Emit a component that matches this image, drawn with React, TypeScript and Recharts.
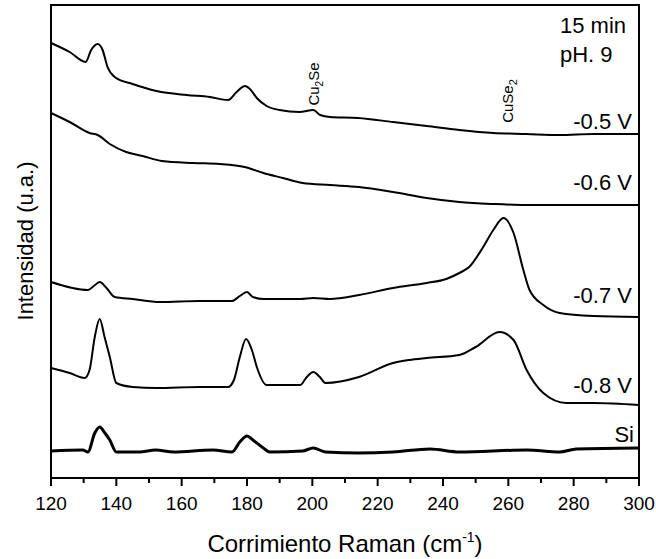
import React from 'react';
import { LineChart, Line, XAxis, YAxis } from 'recharts';

// Raman spectra, intensity in arbitrary units (stacked offsets as drawn)
const p05 = [
  { x: 120, y: 435 }, { x: 125.7, y: 426 }, { x: 130.6, y: 416 }, { x: 132.3, y: 428 },
  { x: 134.3, y: 434 }, { x: 135.8, y: 428 }, { x: 137.3, y: 411 }, { x: 139.5, y: 401 },
  { x: 145, y: 394 }, { x: 152.3, y: 387 }, { x: 161.5, y: 383 }, { x: 168.6, y: 381 },
  { x: 174.2, y: 378 }, { x: 176.8, y: 386 }, { x: 179.4, y: 392 }, { x: 180.9, y: 389 },
  { x: 183, y: 380 }, { x: 186, y: 372 }, { x: 190, y: 368 }, { x: 196, y: 366 },
  { x: 200.3, y: 368 }, { x: 202.4, y: 363 }, { x: 205.4, y: 361 }, { x: 214, y: 360 },
  { x: 224.7, y: 356 }, { x: 235, y: 352 }, { x: 245, y: 348 }, { x: 255.4, y: 345 },
  { x: 265.5, y: 344 }, { x: 275.7, y: 343 }, { x: 286, y: 344 }, { x: 300, y: 344 },
];

const p06 = [
  { x: 120, y: 365 }, { x: 125.7, y: 356 }, { x: 131.8, y: 345 }, { x: 134.3, y: 343 },
  { x: 138, y: 334 }, { x: 143, y: 326 }, { x: 148, y: 322 }, { x: 154, y: 317 },
  { x: 163.5, y: 315 }, { x: 171.7, y: 314 }, { x: 179.3, y: 311 }, { x: 185, y: 305 },
  { x: 191, y: 300 }, { x: 197, y: 295 }, { x: 205.4, y: 293 }, { x: 214.3, y: 291 },
  { x: 224.7, y: 286 }, { x: 235, y: 280 }, { x: 245, y: 276 }, { x: 255.4, y: 274 },
  { x: 265.5, y: 273 }, { x: 300, y: 273 },
];

const p07 = [
  { x: 120, y: 196 }, { x: 131.3, y: 188 }, { x: 133.1, y: 192 }, { x: 134.9, y: 196 },
  { x: 137, y: 190 }, { x: 139.5, y: 181 }, { x: 145, y: 179 }, { x: 153.3, y: 176 },
  { x: 165.5, y: 177 }, { x: 175.4, y: 177 }, { x: 177.8, y: 182 }, { x: 180, y: 186 },
  { x: 181.8, y: 181 }, { x: 185, y: 179 }, { x: 196.3, y: 179 }, { x: 200.3, y: 180 },
  { x: 205.4, y: 179 }, { x: 214.3, y: 183 }, { x: 224.7, y: 190 }, { x: 235, y: 195 },
  { x: 241, y: 199 }, { x: 245, y: 205 }, { x: 248, y: 211 }, { x: 252.3, y: 231 },
  { x: 255.4, y: 248 }, { x: 258.5, y: 260 }, { x: 261.6, y: 245 }, { x: 264.6, y: 208 },
  { x: 266.5, y: 188 }, { x: 270.7, y: 173 }, { x: 275.7, y: 165 }, { x: 286, y: 162 },
  { x: 300, y: 161 },
];

const p08 = [
  { x: 120, y: 110 }, { x: 125.7, y: 105 }, { x: 130.3, y: 100 }, { x: 131.8, y: 108 },
  { x: 133.4, y: 141 }, { x: 134.9, y: 159 }, { x: 136.4, y: 141 }, { x: 138, y: 121 },
  { x: 140, y: 95 }, { x: 145, y: 91 }, { x: 152.3, y: 90 }, { x: 165.5, y: 91 },
  { x: 174.2, y: 91 }, { x: 176, y: 98 }, { x: 177.8, y: 121 }, { x: 179.7, y: 139 },
  { x: 181.5, y: 128 }, { x: 183, y: 111 }, { x: 186, y: 93 }, { x: 196.3, y: 93 },
  { x: 198.3, y: 101 }, { x: 200.3, y: 106 }, { x: 202.3, y: 101 }, { x: 204, y: 95 },
  { x: 214.3, y: 101 }, { x: 224.7, y: 115 }, { x: 229.6, y: 118 }, { x: 235, y: 120 },
  { x: 245, y: 123 }, { x: 250, y: 131 }, { x: 257.3, y: 146 }, { x: 261.6, y: 138 },
  { x: 265.6, y: 108 }, { x: 270.7, y: 85 }, { x: 277.8, y: 75 }, { x: 286, y: 75 },
  { x: 300, y: 73 },
];

const si = [
  { x: 120, y: 27 }, { x: 129.7, y: 28 }, { x: 131.3, y: 26 }, { x: 133.4, y: 45 },
  { x: 134.9, y: 51 }, { x: 136.5, y: 45 }, { x: 138, y: 38 }, { x: 140, y: 26 },
  { x: 147, y: 26 }, { x: 152, y: 28 }, { x: 157.5, y: 26 }, { x: 169.6, y: 28 },
  { x: 175.4, y: 26 }, { x: 177.8, y: 36 }, { x: 180, y: 42 }, { x: 181.8, y: 38 },
  { x: 185, y: 30 }, { x: 187, y: 26 }, { x: 197, y: 27 }, { x: 200.3, y: 30 },
  { x: 204, y: 26 }, { x: 214.3, y: 25 }, { x: 224.7, y: 26 }, { x: 236, y: 29 },
  { x: 245, y: 26 }, { x: 265.6, y: 28 }, { x: 275.7, y: 26 }, { x: 280.8, y: 29 },
  { x: 300, y: 30 },
];

// axis ranges
const X_MIN = 120;
const X_MAX = 300;
const Y_MIN = 0;
const Y_MAX = 473;

// every 10 cm-1 a tick, every 20 a labelled one
const xTicks = [120, 130, 140, 150, 160, 170, 180, 190, 200, 210, 220, 230, 240, 250, 260, 270, 280, 290, 300];

// plot frame, walked round the corners of the axis ranges
const frame = [
  { x: X_MIN, y: Y_MIN }, { x: X_MIN, y: Y_MAX }, { x: X_MAX, y: Y_MAX },
  { x: X_MAX, y: Y_MIN }, { x: X_MIN, y: Y_MIN },
];

const font = '"Liberation Sans", Arial, sans-serif';
const blank = () => '';

const renderTick = (props: any) => {
  const { x, y, payload } = props;
  const major = payload.value % 20 === 0;
  return (
    <g>
      <path d={`M${x},${y}L${x},${y + (major ? 8 : 5)}`} stroke="#000" strokeWidth={2} fill="none" />
      {major && (
        <text x={x} y={y + 32} textAnchor="middle" fontSize={19} fontFamily={font} fill="#000">
          {payload.value}
        </text>
      )}
    </g>
  );
};

const frameLine = { stroke: '#000', strokeWidth: 1.5 };

const App: React.FC = () => {
  return (
    <div style={{ position: 'absolute', left: 0, top: 0, fontFamily: font }}>
      <LineChart width={656} height={559} margin={{ top: 5, right: 17, left: 51, bottom: 51 }}>
        <XAxis
          xAxisId="x"
          type="number"
          dataKey="x"
          domain={[X_MIN, X_MAX]}
          ticks={xTicks}
          interval={0}
          tickSize={0}
          tickMargin={0}
          tickLine={false}
          axisLine={frameLine}
          tick={renderTick}
          height={30}
        />
        <YAxis
          yAxisId="l"
          type="number"
          domain={[Y_MIN, Y_MAX]}
          ticks={[Y_MIN, Y_MAX]}
          tickLine={false}
          tickFormatter={blank}
          axisLine={frameLine}
          width={0}
        />

        <Line xAxisId="x" yAxisId="l" data={frame} dataKey="y" type="linear" stroke="#000" strokeWidth={2} dot={false} activeDot={false} isAnimationActive={false} />

        <Line xAxisId="x" yAxisId="l" data={p05} dataKey="y" type="monotone" stroke="#000" strokeWidth={2} dot={false} isAnimationActive={false} />
        <Line xAxisId="x" yAxisId="l" data={p06} dataKey="y" type="monotone" stroke="#000" strokeWidth={2} dot={false} isAnimationActive={false} />
        <Line xAxisId="x" yAxisId="l" data={p07} dataKey="y" type="monotone" stroke="#000" strokeWidth={2} dot={false} isAnimationActive={false} />
        <Line xAxisId="x" yAxisId="l" data={p08} dataKey="y" type="monotone" stroke="#000" strokeWidth={2} dot={false} isAnimationActive={false} />
        <Line xAxisId="x" yAxisId="l" data={si} dataKey="y" type="monotone" stroke="#000" strokeWidth={3} dot={false} isAnimationActive={false} />

        <text x={560} y={33} fontSize={22} fontFamily={font} fill="#000">15 min</text>
        <text x={560} y={62} fontSize={22} fontFamily={font} fill="#000">pH. 9</text>
        <text x={632} y={129} fontSize={22} fontFamily={font} fill="#000" textAnchor="end">-0.5 V</text>
        <text x={632} y={190} fontSize={22} fontFamily={font} fill="#000" textAnchor="end">-0.6 V</text>
        <text x={632} y={303} fontSize={22} fontFamily={font} fill="#000" textAnchor="end">-0.7 V</text>
        <text x={632} y={393} fontSize={22} fontFamily={font} fill="#000" textAnchor="end">-0.8 V</text>
        <text x={634} y={442} fontSize={22} fontFamily={font} fill="#000" textAnchor="end">Si</text>

        <text x={319} y={84} fontSize={15} fontFamily={font} fill="#000" textAnchor="middle" transform="rotate(-90 319 84)">
          Cu<tspan fontSize={10} dy={4}>2</tspan><tspan dy={-4}>Se</tspan>
        </text>
        <text x={513} y={101} fontSize={15} fontFamily={font} fill="#000" textAnchor="middle" transform="rotate(-90 513 101)">
          CuSe<tspan fontSize={11} dy={4}>2</tspan>
        </text>

        <text x={33} y={241} fontSize={22} fontFamily={font} fill="#000" textAnchor="middle" transform="rotate(-90 33 241)">
          Intensidad (u.a.)
        </text>
        <text x={345} y={552} fontSize={24} fontFamily={font} fill="#000" textAnchor="middle">
          Corrimiento Raman (cm<tspan fontSize={14} dy={-10}>-1</tspan><tspan dy={10}>)</tspan>
        </text>
      </LineChart>
    </div>
  );
};

export default App;
